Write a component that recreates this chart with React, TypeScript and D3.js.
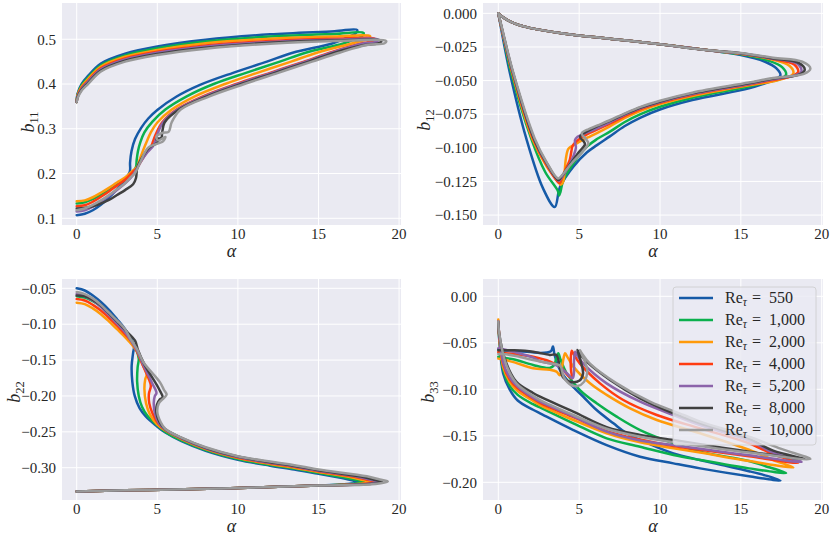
import * as d3 from 'd3'

type Pt = [number, number]

const RE_LABELS = ['550', '1,000', '2,000', '4,000', '5,200', '8,000', '10,000']
const COLORS = ['#165aa7', '#0bb04d', '#ff9a0a', '#ff3c11', '#8c64aa', '#404040', '#9a9a9a']

const X_TICKS = [0, 5, 10, 15, 20]
const B11_TICKS = [0.1, 0.2, 0.3, 0.4, 0.5]
const B12_TICKS = [0, -0.025, -0.05, -0.075, -0.1, -0.125, -0.15]
const B22_TICKS = [-0.05, -0.1, -0.15, -0.2, -0.25, -0.3]
const B33_TICKS = [0, -0.05, -0.1, -0.15, -0.2]

// each curve runs wall -> peak alpha -> log layer -> centreline
const B11: Pt[][] = [
  [[0,0.36],[0.05,0.378],[0.3,0.4],[0.7,0.418],[1.5,0.446],[3,0.468],[5,0.484],[8,0.499],[12,0.511],[16,0.518],[17.4,0.521],[17.3,0.513],[16.6,0.501],[15.8,0.49],[13.4,0.47],[11.8,0.45],[9.7,0.425],[7.65,0.398],[6.2,0.372],[5,0.342],[4.44,0.323],[4,0.302],[3.62,0.277],[3.4,0.25],[3.31,0.224],[3.3,0.205],[3,0.186],[2.5,0.165],[2,0.146],[1.5,0.13],[1,0.118],[0.5,0.11],[0,0.107]],
  [[0,0.36],[0.05,0.376],[0.3,0.397],[0.7,0.414],[1.5,0.442],[3,0.464],[5,0.48],[8,0.495],[12,0.506],[16,0.512],[17.8,0.514],[17.7,0.507],[17.1,0.498],[16.5,0.49],[14.2,0.47],[12.6,0.45],[10.5,0.425],[8.5,0.4],[6.8,0.372],[5.5,0.343],[4.7,0.316],[4.2,0.292],[3.95,0.27],[3.8,0.25],[3.72,0.23],[3.68,0.215],[3.5,0.205],[3,0.188],[2.5,0.175],[2,0.163],[1.5,0.152],[1,0.143],[0.5,0.136],[0,0.133]],
  [[0,0.36],[0.05,0.374],[0.3,0.394],[0.7,0.411],[1.5,0.439],[3,0.461],[5,0.476],[8,0.491],[12,0.501],[16,0.506],[18.2,0.507],[18.1,0.501],[17.5,0.495],[17,0.49],[14.9,0.47],[13.3,0.45],[11.2,0.425],[9.2,0.4],[7.3,0.372],[5.9,0.343],[5,0.314],[4.6,0.292],[4.34,0.271],[4.1,0.25],[3.9,0.23],[3.75,0.215],[3.5,0.207],[3,0.191],[2.5,0.18],[2,0.168],[1.5,0.157],[1,0.147],[0.5,0.14],[0,0.138]],
  [[0,0.36],[0.05,0.372],[0.3,0.391],[0.7,0.407],[1.5,0.435],[3,0.457],[5,0.472],[8,0.486],[12,0.496],[16,0.501],[18.5,0.501],[18.4,0.496],[18,0.493],[17.6,0.49],[15.7,0.47],[14.1,0.45],[12,0.425],[9.9,0.4],[7.8,0.372],[6.2,0.343],[5.3,0.314],[4.9,0.287],[4.7,0.268],[4.6,0.259],[4.3,0.245],[4,0.228],[3.75,0.213],[3.5,0.204],[3,0.186],[2.5,0.173],[2,0.16],[1.5,0.148],[1,0.137],[0.5,0.129],[0,0.127]],
  [[0,0.36],[0.05,0.371],[0.3,0.389],[0.7,0.405],[1.5,0.433],[3,0.455],[5,0.47],[8,0.484],[12,0.494],[16,0.499],[18.7,0.499],[18.6,0.494],[18.2,0.492],[17.7,0.49],[15.8,0.47],[14.2,0.45],[12.1,0.425],[10,0.4],[7.9,0.372],[6.25,0.343],[5.35,0.314],[5,0.287],[4.85,0.27],[4.75,0.262],[4.4,0.248],[4,0.228],[3.75,0.212],[3.5,0.197],[3,0.178],[2.5,0.163],[2,0.15],[1.5,0.138],[1,0.126],[0.5,0.118],[0,0.115]],
  [[0,0.36],[0.05,0.37],[0.3,0.387],[0.7,0.402],[1.5,0.43],[3,0.452],[5,0.467],[8,0.481],[12,0.492],[16,0.497],[18.9,0.497],[18.8,0.492],[17.85,0.487],[16,0.47],[14.4,0.45],[12.3,0.425],[10.2,0.4],[8.05,0.372],[6.35,0.343],[5.45,0.314],[5.3,0.29],[5.25,0.28],[4.95,0.277],[5.05,0.27],[4.5,0.258],[4,0.232],[3.75,0.212],[3.68,0.19],[3.5,0.176],[3,0.163],[2.5,0.152],[2,0.141],[1.5,0.133],[1,0.127],[0.5,0.123],[0,0.122]],
  [[0,0.36],[0.05,0.368],[0.3,0.385],[0.7,0.4],[1.5,0.428],[3,0.45],[5,0.465],[8,0.479],[12,0.49],[16,0.496],[19.2,0.496],[19.1,0.491],[18,0.487],[16.3,0.47],[14.6,0.45],[12.5,0.425],[10.4,0.4],[8.2,0.372],[6.45,0.343],[5.9,0.315],[5.7,0.293],[5.35,0.291],[4.95,0.283],[5.05,0.274],[5.5,0.282],[5.35,0.272],[4.44,0.258],[3.93,0.224],[3.75,0.21],[3.6,0.2],[3.3,0.19],[3,0.178],[2.5,0.165],[2,0.152],[1.5,0.14],[1,0.13],[0.5,0.122],[0,0.118]],
]

const B12: Pt[][] = [
  [[0,0],[0.3,-0.003],[1,-0.0075],[2,-0.011],[4,-0.0149],[7,-0.019],[10,-0.023],[13,-0.0275],[15,-0.031],[16.5,-0.036],[17.2,-0.041],[17.45,-0.046],[17.2,-0.049],[16.5,-0.052],[15.5,-0.0558],[12,-0.0645],[10,-0.0715],[8.8,-0.0775],[7.8,-0.084],[6.9,-0.0915],[6.1,-0.098],[5.47,-0.1035],[4.64,-0.114],[3.82,-0.129],[3.49,-0.144],[2.76,-0.13],[1.73,-0.093],[0.7,-0.0434],[0.2,-0.013],[0,0]],
  [[0,0],[0.3,-0.003],[1,-0.0075],[2,-0.011],[4,-0.0149],[7,-0.019],[10,-0.023],[13,-0.0275],[15,-0.0305],[16.8,-0.0355],[17.55,-0.04],[17.8,-0.0455],[17.5,-0.0485],[16.5,-0.0515],[15.5,-0.0545],[12,-0.0628],[10,-0.0695],[8.8,-0.075],[7.8,-0.081],[6.9,-0.088],[6.1,-0.0935],[5.5,-0.099],[4.64,-0.1116],[4,-0.125],[3.85,-0.1325],[3.76,-0.1355],[3.68,-0.132],[2.9,-0.118],[2.03,-0.093],[0.78,-0.0434],[0.2,-0.011],[0,0]],
  [[0,0],[0.3,-0.003],[1,-0.0075],[2,-0.011],[4,-0.0149],[7,-0.019],[10,-0.023],[13,-0.0275],[15,-0.03],[17,-0.0345],[18,-0.039],[18.25,-0.0445],[17.9,-0.0475],[17,-0.0505],[15.5,-0.0535],[12,-0.0615],[10,-0.0675],[8.8,-0.0725],[7.8,-0.078],[6.9,-0.084],[6.1,-0.089],[5.5,-0.0925],[4.85,-0.0967],[4.35,-0.1005],[4.18,-0.108],[4.1,-0.118],[4,-0.1255],[3.85,-0.1275],[3.78,-0.1265],[3,-0.114],[2.1,-0.093],[0.84,-0.0434],[0.22,-0.012],[0,0]],
  [[0,0],[0.3,-0.003],[1,-0.0075],[2,-0.011],[4,-0.0149],[7,-0.019],[10,-0.023],[13,-0.0275],[15,-0.03],[17,-0.034],[18.3,-0.038],[18.55,-0.0435],[18.2,-0.0465],[17,-0.0495],[15.5,-0.053],[12,-0.0605],[10,-0.0665],[8.8,-0.0712],[7.8,-0.0765],[6.9,-0.082],[6.1,-0.0865],[5.5,-0.0898],[4.9,-0.0945],[4.6,-0.0985],[4.5,-0.104],[4.42,-0.109],[4.2,-0.115],[3.9,-0.1235],[3.78,-0.1262],[3,-0.113],[2.15,-0.093],[0.86,-0.0434],[0.22,-0.012],[0,0]],
  [[0,0],[0.3,-0.003],[1,-0.0075],[2,-0.011],[4,-0.0149],[7,-0.019],[10,-0.023],[13,-0.0275],[15,-0.0298],[17,-0.0337],[18.5,-0.0375],[18.75,-0.043],[18.4,-0.046],[17,-0.049],[15.5,-0.0525],[12,-0.06],[10,-0.066],[8.8,-0.0705],[7.8,-0.0755],[6.9,-0.081],[6.1,-0.0855],[5.5,-0.0885],[4.9,-0.0918],[4.74,-0.0945],[4.8,-0.1],[4.65,-0.106],[4.3,-0.115],[3.9,-0.1225],[3.75,-0.1245],[3,-0.112],[2.2,-0.093],[0.88,-0.0434],[0.23,-0.012],[0,0]],
  [[0,0],[0.3,-0.003],[1,-0.0075],[2,-0.011],[4,-0.0149],[7,-0.019],[10,-0.023],[13,-0.0275],[15,-0.0296],[17,-0.0335],[18.6,-0.037],[18.95,-0.042],[18.6,-0.0455],[17,-0.0485],[15.5,-0.052],[12,-0.0595],[10,-0.0655],[8.8,-0.07],[7.8,-0.075],[6.9,-0.08],[6.1,-0.084],[5.6,-0.087],[5.05,-0.0918],[5.3,-0.0955],[5.36,-0.0975],[5,-0.103],[4.4,-0.113],[3.9,-0.1215],[3.72,-0.124],[3,-0.1115],[2.2,-0.093],[0.89,-0.0434],[0.24,-0.012],[0,0]],
  [[0,0],[0.3,-0.003],[1,-0.0075],[2,-0.011],[4,-0.0149],[7,-0.019],[10,-0.023],[13,-0.0275],[15,-0.0295],[17,-0.033],[18.8,-0.036],[19.3,-0.041],[18.9,-0.045],[17,-0.048],[15.5,-0.0515],[12,-0.059],[10,-0.065],[8.8,-0.0695],[7.8,-0.0745],[6.9,-0.0795],[6.1,-0.0835],[5.6,-0.086],[5.16,-0.0893],[5.45,-0.094],[5.57,-0.0967],[5.2,-0.103],[4.5,-0.112],[3.9,-0.121],[3.69,-0.1228],[3,-0.111],[2.25,-0.093],[0.91,-0.0434],[0.25,-0.012],[0,0]],
]

const B22: Pt[][] = [
  [[0,-0.333],[3,-0.3315],[6,-0.3303],[9,-0.3288],[12,-0.327],[15,-0.3248],[16.5,-0.3232],[17.5,-0.32],[17,-0.3172],[16.2,-0.3135],[15,-0.3085],[13.5,-0.3025],[12,-0.2972],[10,-0.289],[8,-0.2765],[6.5,-0.263],[5.5,-0.251],[4.96,-0.242],[4.3,-0.229],[3.9,-0.217],[3.6,-0.2],[3.45,-0.18],[3.41,-0.158],[3.5,-0.14],[3.55,-0.13],[3,-0.107],[2.5,-0.093],[2,-0.08],[1.5,-0.069],[1,-0.06],[0.5,-0.053],[0,-0.05]],
  [[0,-0.333],[3,-0.3315],[6,-0.3303],[9,-0.3288],[12,-0.327],[15,-0.3248],[16.85,-0.3232],[17.85,-0.32],[17.35,-0.3172],[16.55,-0.3133],[15,-0.3072],[13.5,-0.3012],[12,-0.296],[10,-0.2878],[8,-0.2753],[6.5,-0.262],[5.5,-0.25],[5,-0.241],[4.4,-0.228],[4.05,-0.215],[3.85,-0.2],[3.75,-0.18],[3.78,-0.16],[3.85,-0.148],[3.7,-0.136],[3.4,-0.124],[3,-0.109],[2.5,-0.096],[2,-0.085],[1.5,-0.075],[1,-0.068],[0.5,-0.063],[0,-0.061]],
  [[0,-0.333],[3,-0.3315],[6,-0.3303],[9,-0.3288],[12,-0.327],[15,-0.3248],[17.25,-0.3232],[18.25,-0.32],[17.75,-0.3172],[16.95,-0.313],[15,-0.306],[13.5,-0.3],[12,-0.2948],[10,-0.2865],[8,-0.274],[6.5,-0.26],[5.5,-0.248],[5,-0.24],[4.55,-0.226],[4.3,-0.21],[4.2,-0.19],[4.25,-0.177],[4.34,-0.17],[4.1,-0.157],[3.8,-0.14],[3.4,-0.128],[3,-0.118],[2.5,-0.107],[2,-0.096],[1.5,-0.086],[1,-0.078],[0.5,-0.072],[0,-0.07]],
  [[0,-0.333],[3,-0.3315],[6,-0.3303],[9,-0.3288],[12,-0.327],[15,-0.3248],[17.55,-0.3232],[18.55,-0.3198],[18.05,-0.317],[17.25,-0.3128],[15,-0.305],[13.5,-0.2988],[12,-0.2938],[10,-0.2858],[8,-0.2733],[6.5,-0.2595],[5.5,-0.2475],[5.05,-0.238],[4.7,-0.224],[4.5,-0.21],[4.48,-0.197],[4.6,-0.186],[4.45,-0.175],[4,-0.152],[3.7,-0.136],[3.4,-0.124],[3,-0.114],[2.5,-0.102],[2,-0.091],[1.5,-0.081],[1,-0.073],[0.5,-0.067],[0,-0.065]],
  [[0,-0.333],[3,-0.3315],[6,-0.3303],[9,-0.3288],[12,-0.327],[15,-0.3248],[17.75,-0.3232],[18.75,-0.3196],[18.25,-0.3168],[17.45,-0.3126],[15,-0.3042],[13.5,-0.2982],[12,-0.2931],[10,-0.2852],[8,-0.2728],[6.5,-0.259],[5.5,-0.247],[5.1,-0.238],[4.85,-0.224],[4.78,-0.21],[4.85,-0.2],[4.95,-0.196],[4.7,-0.183],[4.1,-0.155],[3.75,-0.137],[3.4,-0.124],[3,-0.111],[2.5,-0.099],[2,-0.087],[1.5,-0.076],[1,-0.067],[0.5,-0.061],[0,-0.058]],
  [[0,-0.333],[3,-0.3315],[6,-0.3303],[9,-0.3288],[12,-0.327],[15,-0.3248],[17.95,-0.3232],[18.95,-0.3195],[18.45,-0.3167],[17.65,-0.3124],[15,-0.3035],[13.5,-0.2975],[12,-0.2923],[10,-0.2845],[8,-0.2722],[6.5,-0.2585],[5.5,-0.2465],[5.15,-0.237],[4.95,-0.224],[4.98,-0.212],[5.15,-0.205],[5.33,-0.202],[5.1,-0.19],[4.2,-0.156],[3.8,-0.136],[3.62,-0.123],[3,-0.108],[2.5,-0.096],[2,-0.085],[1.5,-0.074],[1,-0.066],[0.5,-0.061],[0,-0.06]],
  [[0,-0.333],[3,-0.3315],[6,-0.3303],[9,-0.3288],[12,-0.327],[15,-0.3248],[18.3,-0.3232],[19.3,-0.3192],[18.8,-0.3165],[18,-0.312],[15,-0.3025],[13.5,-0.2965],[12,-0.2914],[10,-0.284],[8,-0.2715],[6.5,-0.258],[5.5,-0.246],[5.2,-0.236],[5,-0.222],[5.1,-0.21],[5.4,-0.203],[5.58,-0.198],[5.4,-0.191],[5.17,-0.181],[4.14,-0.153],[3.75,-0.135],[3.3,-0.119],[3,-0.107],[2.5,-0.095],[2,-0.084],[1.5,-0.073],[1,-0.064],[0.5,-0.058],[0,-0.055]],
]

const B33: Pt[][] = [
  [[0,-0.028],[0.05,-0.045],[0.3,-0.083],[0.7,-0.1],[1.2,-0.112],[2.15,-0.122],[2.58,-0.1258],[4.64,-0.1438],[6.7,-0.16],[8.77,-0.1725],[10.83,-0.1796],[12.48,-0.185],[15.5,-0.1935],[17.45,-0.198],[16.5,-0.1925],[15.5,-0.188],[14,-0.182],[12.48,-0.176],[10.83,-0.1689],[9.38,-0.159],[7.94,-0.1473],[7.12,-0.1366],[6.08,-0.1223],[5.26,-0.108],[4.43,-0.0936],[3.82,-0.0793],[3.48,-0.063],[3.38,-0.054],[3.25,-0.059],[2.6,-0.061],[2,-0.06],[1,-0.059],[0.3,-0.058],[0,-0.057]],
  [[0,-0.027],[0.05,-0.043],[0.3,-0.079],[0.7,-0.096],[1.2,-0.106],[2.15,-0.116],[2.58,-0.1194],[4.64,-0.1366],[6.7,-0.1527],[8.77,-0.1617],[10.83,-0.1706],[12.48,-0.176],[15.5,-0.185],[17.8,-0.19],[16.5,-0.1825],[15.5,-0.177],[12.48,-0.167],[10.83,-0.158],[8.77,-0.1438],[7.32,-0.1294],[6.08,-0.115],[5.05,-0.1008],[4.23,-0.0828],[3.85,-0.068],[3.71,-0.0613],[3.6,-0.066],[3.45,-0.074],[3.18,-0.077],[2.15,-0.0738],[1,-0.068],[0.3,-0.066],[0,-0.065]],
  [[0,-0.025],[0.05,-0.042],[0.3,-0.076],[0.7,-0.092],[1.2,-0.102],[2.15,-0.1125],[2.58,-0.1169],[4.64,-0.133],[6.7,-0.1473],[8.77,-0.157],[10.83,-0.1634],[12.48,-0.168],[15.5,-0.177],[18.25,-0.184],[17,-0.176],[15.5,-0.165],[12.48,-0.1473],[9.8,-0.133],[8.15,-0.1205],[6.7,-0.106],[5.67,-0.0935],[4.64,-0.0756],[4.3,-0.066],[4.13,-0.0613],[4,-0.07],[3.9,-0.08],[3.8,-0.085],[3.6,-0.081],[3.18,-0.079],[2.15,-0.0774],[1,-0.071],[0.3,-0.068],[0,-0.067]],
  [[0,-0.027],[0.05,-0.041],[0.3,-0.073],[0.7,-0.089],[1.2,-0.099],[2.15,-0.11],[2.58,-0.1145],[4.64,-0.13],[6.7,-0.145],[8.77,-0.154],[10.83,-0.161],[12.48,-0.165],[15.5,-0.172],[18.55,-0.179],[17,-0.17],[15.5,-0.158],[12.48,-0.142],[9.8,-0.1276],[7.73,-0.1115],[6.29,-0.0936],[5.05,-0.0724],[4.65,-0.062],[4.54,-0.0585],[4.48,-0.068],[4.5,-0.08],[4.55,-0.088],[4.3,-0.085],[3.9,-0.077],[3.18,-0.07],[2.15,-0.065],[1,-0.062],[0.3,-0.061],[0,-0.06]],
  [[0,-0.027],[0.05,-0.04],[0.3,-0.071],[0.7,-0.087],[1.2,-0.097],[2.15,-0.109],[2.58,-0.1133],[4.64,-0.129],[6.7,-0.1455],[8.77,-0.155],[10.83,-0.16],[12.48,-0.164],[15.5,-0.171],[18.75,-0.178],[17,-0.168],[15.5,-0.155],[12.48,-0.1384],[10.83,-0.1276],[8.77,-0.1133],[6.7,-0.0936],[5.26,-0.0724],[4.85,-0.063],[4.75,-0.0595],[4.68,-0.07],[4.68,-0.082],[4.6,-0.088],[4.25,-0.083],[3.7,-0.075],[3.18,-0.072],[2.58,-0.07],[2.15,-0.066],[1,-0.06],[0.3,-0.057],[0,-0.056]],
  [[0,-0.028],[0.05,-0.04],[0.5,-0.072],[1.12,-0.092],[2.15,-0.104],[2.58,-0.1079],[4.64,-0.124],[6.7,-0.1406],[8.77,-0.149],[10.83,-0.1545],[12.48,-0.159],[15.5,-0.167],[18.95,-0.175],[17,-0.166],[15.5,-0.153],[12.48,-0.1366],[10.83,-0.1258],[8.77,-0.1097],[6.91,-0.09],[5.47,-0.0703],[5,-0.061],[4.89,-0.0577],[5.1,-0.07],[5.24,-0.083],[5.03,-0.0905],[4.42,-0.0918],[4,-0.087],[3.8,-0.0757],[3.59,-0.063],[3.18,-0.063],[2.15,-0.0595],[1,-0.058],[0.3,-0.058],[0,-0.058]],
  [[0,-0.027],[0.05,-0.039],[0.5,-0.074],[1.12,-0.0936],[2.15,-0.107],[2.58,-0.1115],[4.64,-0.1276],[6.7,-0.1424],[8.77,-0.151],[10.83,-0.157],[12.48,-0.161],[15.5,-0.168],[19.3,-0.175],[17.5,-0.164],[15.5,-0.151],[12.48,-0.1348],[11.45,-0.1276],[9.38,-0.1133],[7.32,-0.0936],[5.67,-0.0724],[5.15,-0.061],[5.05,-0.058],[5.35,-0.07],[5.5,-0.08],[5.3,-0.092],[4.9,-0.0965],[4.5,-0.0955],[4.05,-0.087],[3.85,-0.075],[3.6,-0.073],[3.18,-0.072],[2.15,-0.0685],[1,-0.064],[0.3,-0.062],[0,-0.062]],
]

const FONT = '"Liberation Serif", "DejaVu Serif", serif'
const LINE_W = 2.5

type PanelProps = {
  left: number
  top: number
  width: number
  height: number
  xDomain: [number, number]
  yDomain: [number, number]
  yTicks: number[]
  yFormat: string
  series: Pt[][]
  sub: string
  labelX: number
  labelY: number
}

function Panel({ left, top, width, height, xDomain, yDomain, yTicks, yFormat, series, sub, labelX, labelY }: PanelProps) {
  const x = d3.scaleLinear().domain(xDomain).range([left, left + width])
  const y = d3.scaleLinear().domain(yDomain).range([top + height, top])
  const gen = d3
    .line<Pt>()
    .x((d) => x(d[0]))
    .y((d) => y(d[1]))
    .curve(d3.curveCatmullRom.alpha(0.5))
  const fmt = d3.format(yFormat)
  const clipId = `clip-${sub}`
  const bottom = top + height

  return (
    <g>
      <defs>
        <clipPath id={clipId}>
          <rect x={left} y={top} width={width} height={height} />
        </clipPath>
      </defs>
      <rect x={left} y={top} width={width} height={height} fill="#EAEAF2" />
      {X_TICKS.map((t) => (
        <line key={`gx${t}`} x1={x(t)} x2={x(t)} y1={top} y2={bottom} stroke="#fff" strokeWidth={1} />
      ))}
      {yTicks.map((t) => (
        <line key={`gy${t}`} x1={left} x2={left + width} y1={y(t)} y2={y(t)} stroke="#fff" strokeWidth={1} />
      ))}
      <g clipPath={`url(#${clipId})`}>
        {series.map((s, i) => (
          <path
            key={i}
            d={gen(s) ?? ''}
            fill="none"
            stroke={COLORS[i]}
            strokeWidth={LINE_W}
            strokeLinejoin="round"
            strokeLinecap="round"
          />
        ))}
      </g>
      <g fontFamily={FONT} fontSize={15} fill="#262626">
        {X_TICKS.map((t) => (
          <text key={`tx${t}`} x={x(t)} y={bottom + 14} textAnchor="middle">
            {t}
          </text>
        ))}
        {yTicks.map((t) => (
          <text key={`ty${t}`} x={left - 6} y={y(t)} dy="0.35em" textAnchor="end">
            {fmt(t)}
          </text>
        ))}
      </g>
      <text
        x={left + width / 2}
        y={bottom + 32}
        textAnchor="middle"
        fontFamily={FONT}
        fontSize={18}
        fontStyle="italic"
        fill="#262626"
      >
        α
      </text>
      <text
        transform={`translate(${labelX},${labelY}) rotate(-90)`}
        textAnchor="middle"
        dy="0.35em"
        fontFamily={FONT}
        fill="#262626"
      >
        <tspan fontSize={18} fontStyle="italic">b</tspan>
        <tspan fontSize={12.5} dy={4}>{sub}</tspan>
      </text>
    </g>
  )
}

function Legend({ left, top }: { left: number; top: number }) {
  const step = 22
  return (
    <g fontFamily={FONT} fill="#262626">
      <rect
        x={left}
        y={top}
        width={143}
        height={158}
        rx={3}
        fill="#EAEAF2"
        fillOpacity={0.8}
        stroke="#cccccc"
        strokeWidth={0.8}
      />
      {RE_LABELS.map((lab, i) => {
        const cy = top + 11 + i * step
        return (
          <g key={lab}>
            <line x1={left + 6} x2={left + 40} y1={cy} y2={cy} stroke={COLORS[i]} strokeWidth={LINE_W} />
            <text y={cy + 5} fontSize={16}>
              <tspan x={left + 52}>Re</tspan>
              <tspan fontSize={11.5} fontStyle="italic" dy={3}>τ</tspan>
              <tspan x={left + 79} dy={-3}>=</tspan>
              <tspan x={left + 96}>{lab}</tspan>
            </text>
          </g>
        )
      })}
    </g>
  )
}

export default function App() {
  return (
    <div style={{ position: 'fixed', left: 0, top: 0, width: 830, height: 538, background: '#fff' }}>
      <svg width={830} height={538} viewBox="0 0 830 538" style={{ display: 'block' }}>
        <Panel
          left={62} top={3} width={339} height={222}
          xDomain={[-0.912, 20.12]} yDomain={[0.085, 0.581]}
          yTicks={B11_TICKS} yFormat=".1f" series={B11} sub="11"
          labelX={28} labelY={122}
        />
        <Panel
          left={483} top={3} width={340} height={222}
          xDomain={[-0.946, 20.08]} yDomain={[-0.1574, 0.0077]}
          yTicks={B12_TICKS} yFormat=".3f" series={B12} sub="12"
          labelX={424} labelY={120}
        />
        <Panel
          left={62} top={279} width={339} height={221}
          xDomain={[-0.912, 20.12]} yDomain={[-0.345, -0.037]}
          yTicks={B22_TICKS} yFormat=".2f" series={B22} sub="22"
          labelX={14} labelY={392}
        />
        <Panel
          left={483} top={279} width={340} height={221}
          xDomain={[-0.946, 20.08]} yDomain={[-0.219, 0.0186]}
          yTicks={B33_TICKS} yFormat=".2f" series={B33} sub="33"
          labelX={428} labelY={392}
        />
        <Legend left={673} top={287} />
      </svg>
    </div>
  )
}
